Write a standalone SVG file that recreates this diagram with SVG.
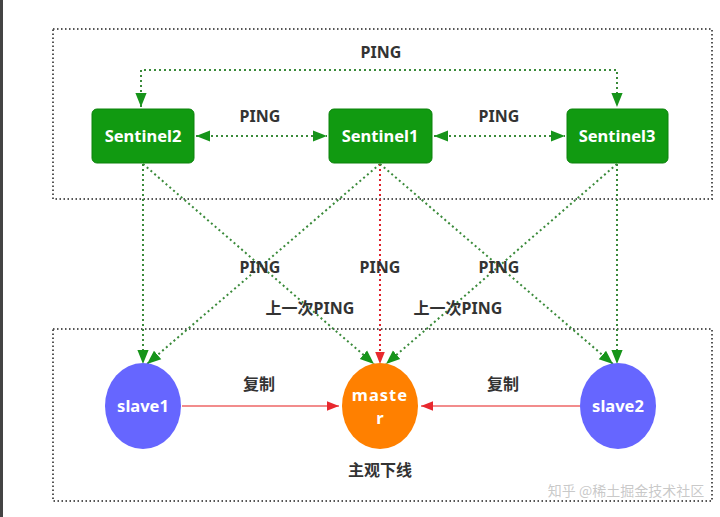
<svg xmlns="http://www.w3.org/2000/svg" width="720" height="517" viewBox="0 0 720 517">
<defs>
<marker id="agl" viewBox="0 0 10 10" refX="10" refY="5" markerWidth="14" markerHeight="14" markerUnits="userSpaceOnUse" orient="auto-start-reverse"><path d="M0,1 L10,5 L0,9 z" fill="#16941a"/></marker>
<marker id="ar" viewBox="0 0 10 10" refX="10" refY="5" markerWidth="12" markerHeight="12" markerUnits="userSpaceOnUse" orient="auto"><path d="M0,1 L10,5 L0,9 z" fill="#e8282e"/></marker>
</defs>
<style>
.box{fill:none;stroke:#555;stroke-width:2;stroke-dasharray:1.5 2.5}
.g{fill:none;stroke:#3a8a3a;stroke-width:2;stroke-dasharray:2 3}
.r{fill:none;stroke:#e0202a;stroke-width:2;stroke-dasharray:2 3}
.rs{fill:none;stroke:#ee6666;stroke-width:1.5}
.sn{fill:#119a11;stroke:#0c820c;stroke-width:1}
.nt{font-family:"Noto Sans","Open Sans",sans-serif;font-weight:bold;font-size:16.5px;fill:#ffffff;text-anchor:middle}
.lb{font-family:"Noto Sans","Noto Sans CJK SC",sans-serif;font-weight:bold;font-size:16px;fill:#333333;text-anchor:middle}
</style>
<rect x="0" y="0" width="720" height="517" fill="#ffffff"/>
<rect x="0" y="0" width="3" height="517" fill="#444444"/>
<rect class="box" x="53" y="29" width="659" height="170"/>
<rect class="box" x="53" y="329" width="659" height="172"/>
<g id="connectors">
<path class="g" d="M141,107 V70 H617 V107" marker-start="url(#agl)" marker-end="url(#agl)"/>
<path class="g" d="M196,136 H327" marker-start="url(#agl)" marker-end="url(#agl)"/>
<path class="g" d="M434,136 H565" marker-start="url(#agl)" marker-end="url(#agl)"/>
<path class="g" d="M143,164 V364" marker-end="url(#agl)"/>
<path class="g" d="M143,164 L374,364" marker-end="url(#agl)"/>
<path class="g" d="M380,164 L147,364" marker-end="url(#agl)"/>
<path class="r" d="M380,164 V364" marker-end="url(#ar)"/>
<path class="g" d="M380,164 L613,364" marker-end="url(#agl)"/>
<path class="g" d="M617,164 L386,364" marker-end="url(#agl)"/>
<path class="g" d="M617,164 V364" marker-end="url(#agl)"/>
<path class="rs" d="M182,406 H339" marker-end="url(#ar)"/>
<path class="rs" d="M580,406 H421" marker-end="url(#ar)"/>
</g>
<g id="sentinel2"><rect class="sn" x="92" y="109" width="102" height="54" rx="5"/><text class="nt" x="143" y="142">Sentinel2</text></g>
<g id="sentinel1"><rect class="sn" x="329" y="109" width="103" height="54" rx="5"/><text class="nt" x="380" y="142">Sentinel1</text></g>
<g id="sentinel3"><rect class="sn" x="567" y="109" width="101" height="54" rx="5"/><text class="nt" x="617" y="142">Sentinel3</text></g>
<g id="slave1"><ellipse cx="143" cy="406" rx="38" ry="43" fill="#6666ff"/><text class="nt" x="143" y="412">slave1</text></g>
<g id="master"><ellipse cx="380" cy="406" rx="38" ry="43" fill="#ff8000"/><text class="nt" x="380" y="401" letter-spacing="1">maste</text><text class="nt" x="380" y="424">r</text></g>
<g id="slave2"><ellipse cx="618" cy="406" rx="38" ry="43" fill="#6666ff"/><text class="nt" x="618" y="412">slave2</text></g>
<g id="labels">
<text class="lb" x="381" y="58">PING</text>
<text class="lb" x="260" y="122">PING</text>
<text class="lb" x="499" y="122">PING</text>
<text class="lb" x="260" y="273">PING</text>
<text class="lb" x="380" y="273">PING</text>
<text class="lb" x="499" y="273">PING</text>
<text class="lb" x="310" y="314">上一次PING</text>
<text class="lb" x="458" y="314">上一次PING</text>
<text class="lb" x="259" y="390">复制</text>
<text class="lb" x="503" y="390">复制</text>
<text class="lb" x="380" y="476">主观下线</text>
</g>
<text x="626" y="496" font-family="'Noto Sans CJK SC',sans-serif" font-size="14" fill="#bbbbbb" fill-opacity="0.8" text-anchor="middle">知乎 @稀土掘金技术社区</text>
</svg>
